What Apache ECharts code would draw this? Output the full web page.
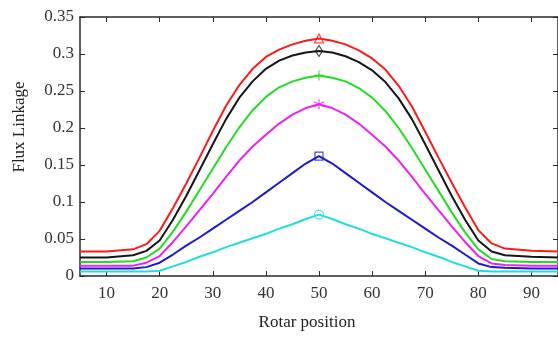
<!DOCTYPE html>
<html>
<head>
<meta charset="utf-8">
<script src="https://cdn.jsdelivr.net/npm/echarts@6/dist/echarts.min.js"></script>
<style>
  html, body { margin: 0; padding: 0; background: #fff; }
  #chart { width: 558px; height: 341px; }
</style>
</head>
<body>
<div id="chart"></div>
<script>
// rotor position samples
const positions = [5, 10, 15, 17.5, 20, 22.5, 25, 27.5, 30, 32.5, 35, 37.5, 40, 42.5, 45, 47.5, 50,
  52.5, 55, 57.5, 60, 62.5, 65, 67.5, 70, 72.5, 75, 77.5, 80, 82.5, 85, 90, 95];

const fluxRed = [0.033, 0.033, 0.036, 0.043, 0.061, 0.092, 0.125, 0.160, 0.196, 0.230, 0.258, 0.280, 0.296, 0.306, 0.313, 0.318, 0.321,
  0.318, 0.313, 0.305, 0.294, 0.279, 0.257, 0.229, 0.195, 0.160, 0.126, 0.093, 0.062, 0.044, 0.037, 0.034, 0.033];
const fluxBlack = [0.025, 0.025, 0.028, 0.034, 0.048, 0.076, 0.108, 0.143, 0.178, 0.212, 0.241, 0.263, 0.280, 0.291, 0.298, 0.302, 0.304,
  0.302, 0.297, 0.289, 0.278, 0.262, 0.240, 0.212, 0.178, 0.143, 0.108, 0.076, 0.048, 0.033, 0.028, 0.026, 0.025];
const fluxGreen = [0.019, 0.019, 0.020, 0.025, 0.037, 0.060, 0.087, 0.116, 0.145, 0.174, 0.201, 0.224, 0.242, 0.255, 0.263, 0.268, 0.271,
  0.268, 0.263, 0.254, 0.241, 0.223, 0.200, 0.173, 0.144, 0.115, 0.086, 0.059, 0.036, 0.023, 0.020, 0.019, 0.019];
const fluxMagenta = [0.014, 0.014, 0.014, 0.018, 0.027, 0.046, 0.067, 0.089, 0.111, 0.134, 0.156, 0.175, 0.191, 0.206, 0.218, 0.227, 0.232,
  0.227, 0.218, 0.206, 0.191, 0.175, 0.156, 0.134, 0.111, 0.089, 0.067, 0.046, 0.027, 0.017, 0.015, 0.014, 0.014];
const fluxBlue = [0.010, 0.010, 0.010, 0.012, 0.018, 0.029, 0.041, 0.052, 0.064, 0.076, 0.088, 0.100, 0.113, 0.126, 0.139, 0.152, 0.162,
  0.152, 0.139, 0.126, 0.113, 0.100, 0.088, 0.076, 0.064, 0.052, 0.041, 0.029, 0.017, 0.012, 0.011, 0.010, 0.010];
const fluxCyan = [0.006, 0.006, 0.006, 0.006, 0.007, 0.013, 0.019, 0.026, 0.032, 0.039, 0.045, 0.051, 0.057, 0.064, 0.070, 0.077, 0.083,
  0.077, 0.070, 0.064, 0.057, 0.051, 0.045, 0.039, 0.032, 0.026, 0.019, 0.013, 0.007, 0.006, 0.006, 0.006, 0.006];

const xTicks = [10, 20, 30, 40, 50, 60, 70, 80, 90];
const markerAt = 50;

const curves = [
  { name: "red", data: fluxRed, color: "#ff1a1a", symbol: "triangle", size: 9 },
  { name: "black", data: fluxBlack, color: "#151515", symbol: "diamond", size: [7, 11] },
  { name: "green", data: fluxGreen, color: "#22dd22", symbol: "path://M5,0L5,10M0,5L10,5", size: 10 },
  { name: "magenta", data: fluxMagenta, color: "#ee22ee", symbol: "path://M5,0L5,10M0.7,2.5L9.3,7.5M0.7,7.5L9.3,2.5", size: 10 },
  { name: "blue", data: fluxBlue, color: "#1a1acc", symbol: "rect", size: 8 },
  { name: "cyan", data: fluxCyan, color: "#22dddd", symbol: "circle", size: 9 },
];

const chart = echarts.init(document.getElementById("chart"));

const axisColor = "#2a2a2a";
const labelStyle = { color: "#333", fontFamily: "Liberation Serif", fontSize: 17 };

const series = [];
curves.forEach(c => {
  series.push({
    name: c.name,
    type: "line",
    symbol: "none",
    lineStyle: { color: c.color, width: 2 },
    data: positions.map((p, i) => [p, c.data[i]]),
    z: 2,
  });
  const k = positions.indexOf(markerAt);
  series.push({
    type: "scatter",
    symbol: c.symbol,
    symbolSize: c.size,
    itemStyle: { color: "rgba(0,0,0,0)", borderColor: c.color, borderWidth: 1.2 },
    data: [[positions[k], c.data[k]]],
    z: 3,
  });
});

const option = {
  animation: false,
  backgroundColor: "#fff",
  grid: { left: 80, top: 17, width: 482, height: 259 },
  xAxis: [
    {
      type: "value", min: 5, max: 95,
      axisLine: { onZero: false, lineStyle: { color: axisColor, width: 1.5 } },
      axisTick: { inside: true, length: 5, customValues: xTicks, lineStyle: { color: axisColor } },
      axisLabel: { ...labelStyle, margin: 9, customValues: xTicks },
      splitLine: { show: false },
    },
    {
      type: "value", min: 5, max: 95, position: "top",
      axisLine: { onZero: false, lineStyle: { color: axisColor, width: 1.5 } },
      axisTick: { inside: true, length: 5, customValues: xTicks, lineStyle: { color: axisColor } },
      axisLabel: { show: false },
      splitLine: { show: false },
    },
  ],
  yAxis: [
    {
      type: "value", min: 0, max: 0.35, interval: 0.05,
      axisLine: { show: true, onZero: false, lineStyle: { color: axisColor, width: 1.5 } },
      axisTick: { show: true, inside: true, length: 5, lineStyle: { color: axisColor } },
      axisLabel: { ...labelStyle, margin: 6, formatter: v => String(+v.toFixed(2)) },
      splitLine: { show: false },
    },
    {
      type: "value", min: 0, max: 0.35, interval: 0.05, position: "right",
      axisLine: { show: true, onZero: false, lineStyle: { color: axisColor, width: 1.5 } },
      axisTick: { show: true, inside: true, length: 5, lineStyle: { color: axisColor } },
      axisLabel: { show: false },
      splitLine: { show: false },
    },
  ],
  graphic: [
    {
      type: "text", x: 307, y: 323,
      style: { text: "Rotar position", fill: "#222", font: "17px 'Liberation Serif'", align: "center", verticalAlign: "middle" },
    },
    {
      type: "text", x: 20, y: 127, rotation: Math.PI / 2,
      style: { text: "Flux Linkage", fill: "#222", font: "17px 'Liberation Serif'", align: "center", verticalAlign: "middle" },
    },
  ],
  series: series,
};

chart.setOption(option);
</script>
</body>
</html>
